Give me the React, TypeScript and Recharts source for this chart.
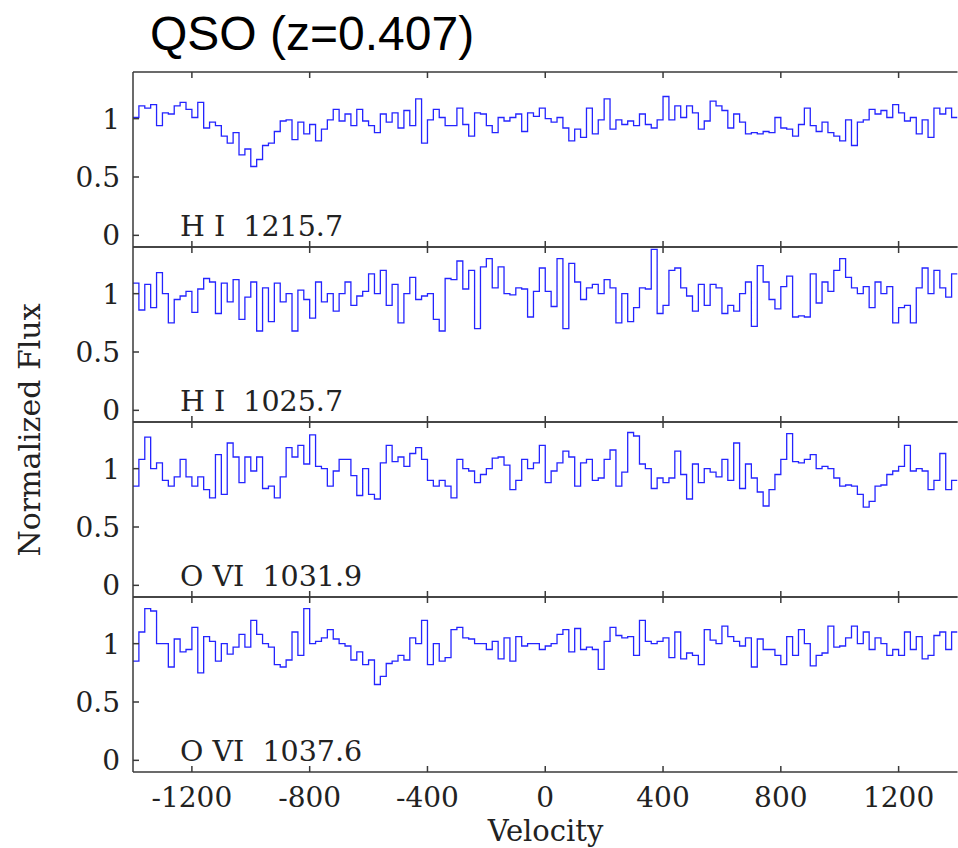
import React from 'react';
import { LineChart, Line, XAxis, YAxis } from 'recharts';

// velocity grid (km/s), 20 km/s bins from -1400 to +1400
const VEL_START = -1400;
const VEL_STEP = 20;
const VEL_TICKS = [-1200, -800, -400, 0, 400, 800, 1200];
const FLUX_TICKS = [0, 0.5, 1];

// normalized flux per bin
const fluxHI1216 = [
  1.01, 1.11, 1.09, 1.12, 0.94, 1.05, 1.04, 1.11, 1.14, 1.08,
  1.01, 1.14, 0.92, 0.97, 0.94, 0.85, 0.79, 0.88, 0.69, 0.74,
  0.59, 0.65, 0.77, 0.79, 0.89, 0.98, 0.99, 0.82, 0.97, 0.87,
  0.95, 0.81, 0.91, 0.99, 1.08, 0.98, 1.04, 0.94, 1.08, 0.98,
  0.94, 0.88, 1.04, 0.97, 1.05, 0.92, 1.07, 0.94, 1.17, 0.79,
  0.99, 1.08, 1.01, 0.94, 0.94, 1.09, 0.95, 0.85, 1.05, 1.04,
  0.94, 0.88, 1.01, 0.98, 1.01, 1.04, 0.89, 1.05, 1.02, 1.09,
  1.0, 0.97, 1.01, 0.92, 0.81, 0.91, 0.84, 1.09, 0.87, 0.99,
  1.17, 0.91, 0.99, 0.95, 0.98, 0.94, 1.04, 0.95, 0.92, 0.99,
  1.19, 0.99, 1.11, 1.01, 1.11, 1.05, 0.91, 0.98, 1.15, 1.11,
  1.07, 0.92, 1.04, 0.97, 0.87, 0.88, 0.87, 0.89, 0.88, 1.01,
  0.92, 0.91, 0.85, 0.95, 1.09, 0.94, 0.89, 0.97, 0.88, 0.85,
  0.81, 0.99, 0.77, 0.97, 0.99, 1.08, 1.04, 1.07, 1.01, 1.12,
  1.05, 0.98, 1.01, 0.87, 0.99, 0.84, 1.09, 1.04, 1.09, 1.01,
];

const fluxHI1026 = [
  1.09, 0.86, 1.08, 0.88, 1.18, 1.0, 0.75, 0.95, 0.98, 1.02,
  0.84, 1.04, 1.13, 1.1, 0.83, 1.09, 0.93, 1.12, 0.78, 0.97,
  1.1, 0.68, 1.05, 0.76, 1.09, 0.93, 1.0, 0.68, 1.03, 0.95,
  0.79, 1.1, 0.93, 1.0, 0.85, 1.0, 1.1, 0.9, 0.98, 1.02,
  1.17, 1.0, 1.2, 0.9, 1.08, 0.75, 1.0, 1.14, 0.95, 0.98,
  1.0, 0.78, 0.68, 1.13, 1.12, 1.28, 1.04, 1.2, 0.7, 1.23,
  1.3, 1.05, 1.23, 1.0, 0.99, 1.05, 1.04, 0.8, 1.02, 1.22,
  1.02, 0.89, 1.3, 0.7, 1.26, 1.1, 0.95, 1.05, 1.08, 1.0,
  1.12, 1.05, 0.75, 1.0, 0.76, 0.88, 1.05, 1.04, 1.38, 0.83,
  0.9, 1.2, 1.22, 1.05, 0.98, 0.85, 1.08, 0.9, 1.08, 1.05,
  0.83, 0.9, 0.85, 1.0, 1.1, 0.72, 1.24, 1.1, 0.95, 0.87,
  1.06, 1.15, 0.8, 0.81, 0.8, 1.17, 0.92, 1.1, 1.02, 1.2,
  1.3, 1.14, 1.05, 1.0, 1.06, 0.88, 1.1, 1.0, 1.06, 0.75,
  0.88, 0.9, 0.75, 1.05, 1.22, 1.0, 1.2, 1.05, 0.97, 1.17,
];

const fluxOVI1032 = [
  0.85, 1.08, 1.27, 1.0, 1.05, 0.9, 0.85, 0.93, 1.08, 0.93,
  0.85, 0.93, 0.82, 0.75, 1.12, 0.78, 1.22, 1.1, 0.88, 1.1,
  0.98, 1.1, 0.83, 0.85, 0.75, 0.93, 1.18, 1.1, 1.2, 1.04,
  1.29, 1.02, 1.0, 0.85, 0.98, 1.08, 1.08, 0.94, 0.77, 1.0,
  0.78, 0.74, 1.05, 1.2, 1.06, 1.1, 1.02, 1.13, 1.18, 1.08,
  0.9, 0.85, 0.9, 0.85, 0.75, 1.08, 1.0, 0.98, 0.88, 0.95,
  1.0, 1.09, 1.1, 1.03, 0.82, 0.9, 1.08, 1.0, 1.05, 1.2,
  0.88, 0.98, 1.05, 1.15, 1.1, 0.85, 1.05, 1.08, 0.9, 0.92,
  1.08, 1.16, 0.85, 0.97, 1.31, 1.28, 1.04, 1.0, 0.83, 0.92,
  0.88, 0.92, 1.15, 0.95, 0.74, 1.04, 0.88, 1.0, 0.97, 0.93,
  1.08, 0.9, 1.22, 0.83, 1.04, 0.92, 0.8, 0.68, 0.82, 0.95,
  1.08, 1.3, 1.06, 1.05, 1.08, 1.12, 1.0, 1.02, 1.0, 0.92,
  0.85, 0.86, 0.85, 0.78, 0.67, 0.72, 0.85, 0.86, 0.95, 0.98,
  1.02, 1.2, 0.98, 1.0, 0.98, 0.82, 0.9, 1.13, 0.82, 0.9,
];

const fluxOVI1038 = [
  0.85, 1.1, 1.3, 1.28, 1.0, 1.0, 0.8, 1.04, 0.93, 0.95,
  1.14, 0.75, 1.06, 1.02, 0.85, 1.0, 0.91, 0.97, 1.08, 0.97,
  1.2, 1.08, 1.0, 0.97, 0.82, 0.8, 0.86, 1.1, 0.9, 1.3,
  1.0, 1.02, 1.05, 1.12, 1.04, 1.0, 0.98, 0.86, 0.93, 0.82,
  0.86, 0.65, 0.72, 0.83, 0.85, 0.9, 0.86, 1.05, 1.0, 1.2,
  0.82, 1.0, 0.85, 0.88, 1.12, 1.14, 1.05, 1.04, 1.0, 1.0,
  0.95, 1.02, 0.87, 1.05, 0.85, 1.06, 0.98, 1.0, 1.0, 0.95,
  0.98, 1.0, 1.08, 1.12, 0.93, 1.13, 0.95, 0.97, 0.95, 0.78,
  1.02, 1.14, 1.07, 1.05, 1.06, 0.9, 1.2, 1.02, 1.0, 1.02,
  1.05, 0.88, 1.1, 0.87, 0.92, 0.9, 0.82, 1.12, 1.03, 1.0,
  1.15, 1.06, 1.02, 0.98, 1.05, 0.8, 1.04, 0.95, 0.95, 0.9,
  0.82, 1.06, 0.9, 1.12, 1.0, 0.81, 0.9, 0.92, 1.15, 0.97,
  0.98, 1.05, 1.15, 1.0, 1.1, 0.95, 1.05, 1.0, 0.9, 0.95,
  0.9, 1.1, 0.95, 1.06, 0.87, 0.9, 1.07, 1.1, 0.95, 1.1,
];

const PANEL_LABELS = ['H I  1215.7', 'H I  1025.7', 'O VI  1031.9', 'O VI  1037.6'];
const PANEL_FLUX = [fluxHI1216, fluxHI1026, fluxOVI1032, fluxOVI1038];

const W = 958;
const PLOT_LEFT = 133;
const PANEL_H = 175;
const TOP0 = 72;
const PAD = 2;
const EDGE_H = 1; // height of the top x axis, just enough for its line to be drawn
const INNER_H = 14; // bottom x axis of the upper panels: room below the "0" labels
const AXIS_H = 75;
const TICK = 6;
const AXIS = '#3a3a3a';
const LINE = '#2424ff';
const SERIF = '"DejaVu Serif", serif';

// step curve: one point per bin edge, last value repeated at the closing edge
const toSteps = (flux: number[]) => {
  const pts = flux.map((f, i) => ({ v: VEL_START + i * VEL_STEP, f }));
  pts.push({ v: VEL_START + flux.length * VEL_STEP, f: flux[flux.length - 1] });
  return pts;
};

const LeftTick = (props: any) => {
  const { x, y, payload } = props;
  return (
    <g>
      <line x1={x} x2={x + TICK} y1={y} y2={y} stroke={AXIS} strokeWidth={1.5} />
      <text x={x - 13} y={y} dy="0.36em" textAnchor="end" fontFamily={SERIF} fontSize={28} fill="#222">
        {String(payload.value)}
      </text>
    </g>
  );
};

const RightTick = (props: any) => {
  const { x, y } = props;
  return <line x1={x - TICK} x2={x} y1={y} y2={y} stroke={AXIS} strokeWidth={1.5} />;
};

const TopTick = (props: any) => {
  const { x, y } = props;
  return <line x1={x} x2={x} y1={y} y2={y + TICK} stroke={AXIS} strokeWidth={1.5} />;
};

const BottomTick = (props: any) => {
  const { x, y, payload, showLabel } = props;
  return (
    <g>
      <line x1={x} x2={x} y1={y} y2={y - TICK} stroke={AXIS} strokeWidth={1.5} />
      {showLabel && (
        <text x={x} y={y + 35} textAnchor="middle" fontFamily={SERIF} fontSize={28} fill="#222">
          {String(payload.value)}
        </text>
      )}
    </g>
  );
};

const Panel = ({ flux, index, last }: { flux: number[]; index: number; last: boolean }) => {
  const bottomH = last ? AXIS_H : INNER_H;
  const height = PAD + EDGE_H + PANEL_H + bottomH;
  return (
    <div style={{ position: 'absolute', left: 0, top: TOP0 - PAD - EDGE_H + index * PANEL_H }}>
      <LineChart width={W} height={height} data={toSteps(flux)} margin={{ top: PAD, right: 0.5, bottom: 0, left: 0 }}>
        <XAxis
          xAxisId="bottom"
          dataKey="v"
          type="number"
          domain={[-1400, 1400]}
          ticks={VEL_TICKS}
          interval={0}
          allowDataOverflow
          height={bottomH}
          tickSize={0}
          tickMargin={0}
          axisLine={{ stroke: AXIS, strokeWidth: 1.5 }}
          tickLine={false}
          tick={(p: any) => <BottomTick {...p} showLabel={last} />}
        />
        <XAxis
          xAxisId="top"
          orientation="top"
          dataKey="v"
          type="number"
          domain={[-1400, 1400]}
          ticks={VEL_TICKS}
          interval={0}
          allowDataOverflow
          height={EDGE_H}
          tickSize={0}
          tickMargin={0}
          axisLine={{ stroke: AXIS, strokeWidth: 1.5 }}
          tickLine={false}
          tick={(p: any) => <TopTick {...p} />}
        />
        <YAxis
          yAxisId="left"
          type="number"
          domain={[-0.1, 1.4]}
          ticks={FLUX_TICKS}
          interval={0}
          allowDataOverflow
          width={PLOT_LEFT}
          tickSize={0}
          tickMargin={0}
          axisLine={{ stroke: AXIS, strokeWidth: 1.5 }}
          tickLine={false}
          tick={(p: any) => <LeftTick {...p} />}
        />
        <YAxis
          yAxisId="right"
          orientation="right"
          type="number"
          domain={[-0.1, 1.4]}
          ticks={FLUX_TICKS}
          interval={0}
          allowDataOverflow
          width={0}
          tickSize={0}
          tickMargin={0}
          axisLine={{ stroke: AXIS, strokeWidth: 1.5 }}
          tickLine={false}
          tick={(p: any) => <RightTick {...p} />}
        />
        <Line
          xAxisId="bottom"
          yAxisId="left"
          type="stepAfter"
          dataKey="f"
          stroke={LINE}
          strokeWidth={1.3}
          dot={false}
          activeDot={false}
          isAnimationActive={false}
        />
      </LineChart>
    </div>
  );
};

export default function App() {
  return (
    <div style={{ position: 'absolute', left: 0, top: 0, width: 958, height: 848, overflow: 'hidden', background: '#fff' }}>
      {PANEL_FLUX.map((flux, i) => (
        <Panel key={i} flux={flux} index={i} last={i === PANEL_FLUX.length - 1} />
      ))}
      <svg width={958} height={848} style={{ position: 'absolute', left: 0, top: 0, pointerEvents: 'none' }}>
        <text x={150} y={50} fontFamily='"Liberation Sans", Arial, sans-serif' fontSize={48} fill="#000">
          QSO (z=0.407)
        </text>
        <text
          x={0}
          y={0}
          transform="translate(40, 430) rotate(-90)"
          textAnchor="middle"
          fontFamily={SERIF}
          fontSize={30}
          fill="#222"
        >
          Normalized Flux
        </text>
        {PANEL_LABELS.map((label, i) => (
          <text key={label} x={180} y={236 + i * PANEL_H} fontFamily={SERIF} fontSize={28.5} fill="#222" style={{ whiteSpace: 'pre' }}>
            {label}
          </text>
        ))}
        <text x={545.5} y={841} textAnchor="middle" fontFamily={SERIF} fontSize={29} fill="#222">
          Velocity
        </text>
      </svg>
    </div>
  );
}
